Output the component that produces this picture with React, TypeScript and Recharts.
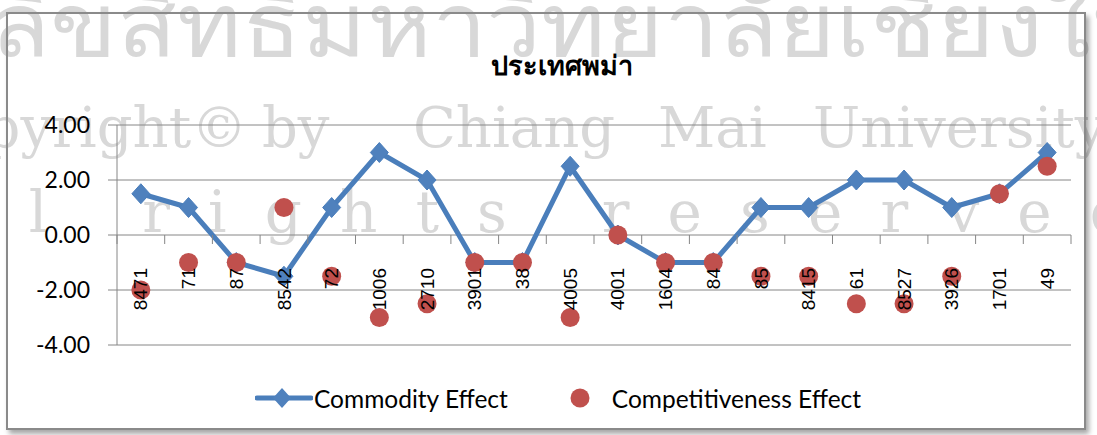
import React from "react";
import {
  LineChart,
  Line,
  XAxis,
  YAxis,
  CartesianGrid,
} from "recharts";

const categories = [
  "8471", "71", "87", "8542", "72", "1006", "2710", "3901", "38", "4005",
  "4001", "1604", "84", "85", "8415", "61", "8527", "3926", "1701", "49",
];
const commodityEffect = [
  1.5, 1, -1, -1.5, 1, 3, 2, -1, -1, 2.5, 0, -1, -1, 1, 1, 2, 2, 1, 1.5, 3,
];
const competitivenessEffect = [
  -2, -1, -1, 1, -1.5, -3, -2.5, -1, -1, -3, 0, -1, -1, -1.5, -1.5, -2.5,
  -2.5, -1.5, 1.5, 2.5,
];
const yTicks = [-4, -2, 0, 2, 4];

const W = 1097;
const H = 435;
const MARGIN = { top: 125, right: 26, bottom: 89, left: 7 };
const Y_AXIS_W = 110;
const PLOT_W = W - MARGIN.left - MARGIN.right - Y_AXIS_W;
const PLOT_H = H - MARGIN.top - MARGIN.bottom - 1;
const ZERO_Y = MARGIN.top + PLOT_H / 2;
const STEP = PLOT_W / categories.length;

const BLUE = "#4A7EBB";
const BLUE_MARK = "#4F81BD";
const RED = "#C0504D";
const GRID = "#868686";

const data = categories.map((name, i) => ({
  name,
  commodity: commodityEffect[i],
  competitiveness: competitivenessEffect[i],
}));

// category labels sit under the zero line, excel style, ticks between categories
function CategoryTick(props: any) {
  const { x, payload, index } = props;
  const ty = ZERO_Y + 33;
  return (
    <g>
      <line x1={x - STEP / 2} y1={ZERO_Y} x2={x - STEP / 2} y2={ZERO_Y + 9} stroke={GRID} />
      {index === categories.length - 1 && (
        <line x1={x + STEP / 2} y1={ZERO_Y} x2={x + STEP / 2} y2={ZERO_Y + 9} stroke={GRID} />
      )}
      <text
        x={x}
        y={ty}
        dy="0.35em"
        textAnchor="end"
        transform={`rotate(-90, ${x}, ${ty})`}
        fill="#000"
        style={{ fontFamily: '"Liberation Sans", Arial, sans-serif', fontSize: 19 }}
      >
        {payload.value}
      </text>
    </g>
  );
}

function Diamond(props: any) {
  const { cx, cy } = props;
  if (cx == null || cy == null) return null;
  return (
    <polygon
      points={`${cx},${cy - 10} ${cx + 9},${cy} ${cx},${cy + 10} ${cx - 9},${cy}`}
      fill={BLUE_MARK}
      stroke={BLUE}
      strokeWidth={1}
    />
  );
}

function Watermark() {
  const wm = { fill: "#d8d8d8" };
  return (
    <svg width={W} height={H} style={{ position: "absolute", left: 0, top: 0 }}>
      <text x={-10} y={56} textLength={1230} lengthAdjust="spacingAndGlyphs" style={{ ...wm, fontSize: 88, fontFamily: "Tahoma, sans-serif" }}>
        ลิขสิทธิ์มหาวิทยาลัยเชียงใหม่
      </text>
      <g style={{ ...wm, fontSize: 56, fontFamily: '"DejaVu Serif", serif' }}>
        <text x={-92} y={147}>Copyright©</text>
        <text x={262} y={147}>by</text>
        <text x={413} y={147}>Chiang</text>
        <text x={658} y={147}>Mai</text>
        <text x={813} y={147}>University</text>
      </g>
      <text x={-108} y={232} textLength={1235} lengthAdjust="spacing" style={{ ...wm, fontSize: 58, fontFamily: '"DejaVu Serif", serif' }}>
        All rights reserved
      </text>
    </svg>
  );
}

function ChartLegend() {
  const txt = { fontFamily: "Lato, sans-serif", fontSize: 24.5, color: "#000" };
  return (
    <div style={{ position: "absolute", left: 255, top: 384, display: "flex", alignItems: "center", height: 28 }}>
      <svg width={58} height={24}>
        <line x1={2} y1={12} x2={56} y2={12} stroke={BLUE} strokeWidth={5} strokeLinecap="round" />
        <polygon points="27,2 36,12 27,22 18,12" fill={BLUE_MARK} />
      </svg>
      <span style={{ ...txt, marginLeft: 1 }}>Commodity Effect</span>
      <svg width={24} height={24} style={{ marginLeft: 60 }}>
        <circle cx={12} cy={12} r={9.5} fill={RED} />
      </svg>
      <span style={{ ...txt, marginLeft: 20 }}>Competitiveness Effect</span>
    </div>
  );
}

export default function App() {
  return (
    <div style={{ position: "absolute", left: 0, top: 0, width: W, height: H, background: "#fff", overflow: "hidden" }}>
      <Watermark />
      <div
        style={{
          position: "absolute",
          left: 6,
          top: 12,
          width: 1076,
          height: 414,
          border: "2px solid #8a8a8a",
          boxShadow: "3px 4px 5px rgba(0,0,0,0.35)",
        }}
      />
      <div
        style={{
          position: "absolute",
          left: 0,
          width: 1124,
          top: 44,
          textAlign: "center",
          fontFamily: 'Tahoma, "DejaVu Sans", sans-serif',
          fontWeight: "bold",
          fontSize: 27,
          color: "#000",
        }}
      >
        ประเทศพม่า
      </div>
      <div style={{ position: "absolute", left: 0, top: 0 }}>
        <LineChart width={W} height={H} data={data} margin={MARGIN}>
          <CartesianGrid vertical={false} stroke={GRID} />
          <XAxis
            dataKey="name"
            height={1}
            interval={0}
            padding={{ left: STEP / 2, right: STEP / 2 }}
            axisLine={false}
            tickLine={false}
            tick={<CategoryTick />}
          />
          <YAxis
            width={Y_AXIS_W}
            domain={[-4, 4]}
            ticks={yTicks}
            tickFormatter={(v: number) => v.toFixed(2)}
            axisLine={{ stroke: GRID }}
            tickLine={{ stroke: GRID }}
            tickSize={9}
            tickMargin={18}
            tick={{ fill: "#000", fontSize: 23, fontFamily: "Lato, sans-serif" }}
          />
          <Line
            dataKey="commodity"
            stroke={BLUE}
            strokeWidth={5}
            dot={<Diamond />}
            activeDot={false}
            isAnimationActive={false}
          />
          <Line
            dataKey="competitiveness"
            stroke="none"
            dot={{ r: 9.5, fill: RED, stroke: RED, strokeWidth: 0 }}
            activeDot={false}
            isAnimationActive={false}
          />
        </LineChart>
      </div>
      <ChartLegend />
    </div>
  );
}
